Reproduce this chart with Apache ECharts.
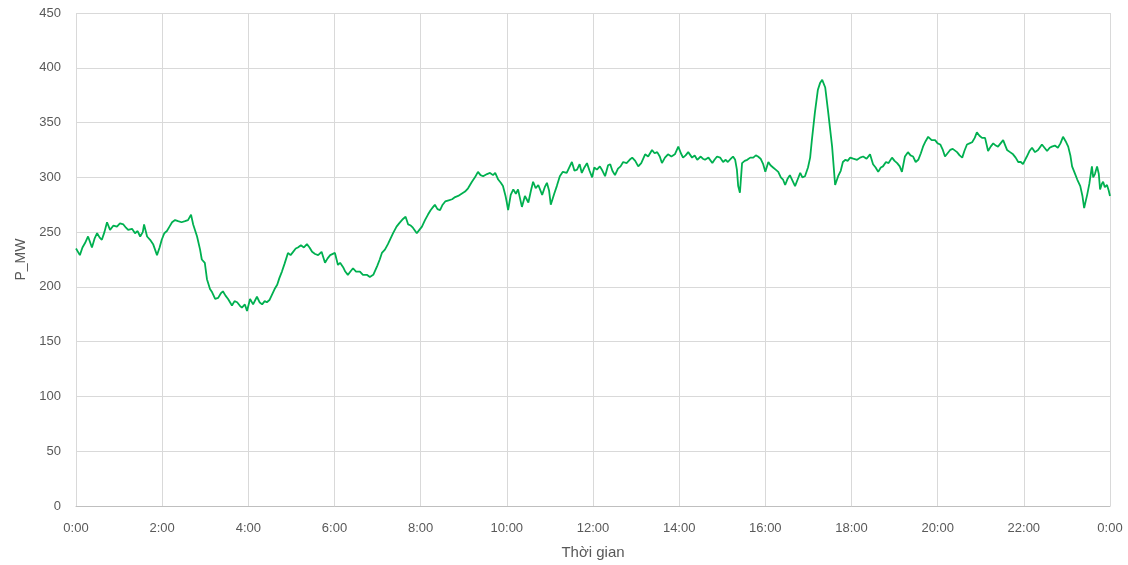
<!DOCTYPE html>
<html>
<head>
<meta charset="utf-8">
<title>P_MW</title>
<script src="https://cdn.jsdelivr.net/npm/echarts@6/dist/echarts.min.js"></script>
<style>
	html, body { margin: 0; padding: 0; background: #fff; }
	#chart { width: 1128px; height: 565px; }
</style>
</head>
<body>
<div id="chart"></div>
<script>
	// giờ trong ngày (0..24) và công suất
	const hours = [
		0.00,0.02,0.09,0.15,0.21,0.28,0.37,0.43,0.49,0.55,0.60,0.66,0.72,0.79,0.87,0.95,
		1.02,1.10,1.16,1.21,1.30,1.37,1.43,1.49,1.55,1.58,1.65,1.72,1.79,1.88,1.94,1.99,
		2.05,2.11,2.17,2.23,2.30,2.37,2.45,2.53,2.60,2.67,2.72,2.81,2.88,2.92,2.99,
		3.04,3.11,3.16,3.23,3.30,3.36,3.41,3.47,3.53,3.62,3.68,3.74,3.80,3.85,3.92,3.97,
		4.04,4.11,4.20,4.26,4.32,4.38,4.43,4.49,4.55,4.61,4.67,4.72,4.78,4.84,4.92,4.98,
		5.04,5.10,5.15,5.22,5.29,5.36,5.42,5.48,5.55,5.62,5.70,5.78,5.84,5.90,
		6.01,6.08,6.13,6.20,6.25,6.31,6.37,6.43,6.50,6.59,6.66,6.75,6.82,6.90,6.99,
		7.05,7.10,7.17,7.24,7.30,7.36,7.44,7.50,7.59,7.65,7.71,7.77,7.82,7.91,7.97,
		8.03,8.10,8.17,8.23,8.29,8.33,8.39,8.45,8.51,8.57,8.65,8.73,8.80,8.87,8.95,
		9.03,9.10,9.19,9.26,9.33,9.39,9.45,9.54,9.61,9.68,9.73,9.80,9.86,9.91,9.97,
		10.00,10.03,10.09,10.15,10.21,10.26,10.35,10.42,10.50,10.56,10.61,10.67,10.73,10.82,10.88,10.93,10.98,
		11.02,11.10,11.16,11.23,11.30,11.39,11.45,11.51,11.57,11.63,11.69,11.74,11.80,11.86,11.92,11.98,
		12.03,12.09,12.16,12.22,12.28,12.35,12.40,12.45,12.51,12.58,12.64,12.70,12.78,12.85,12.91,12.98,
		13.05,13.12,13.21,13.28,13.37,13.43,13.49,13.55,13.60,13.67,13.74,13.82,13.90,13.98,
		14.04,14.09,14.15,14.21,14.30,14.36,14.42,14.50,14.55,14.60,14.68,14.77,14.82,14.88,14.95,
		15.02,15.08,15.13,15.20,15.25,15.30,15.34,15.37,15.41,15.46,15.52,15.58,15.65,15.72,15.78,15.83,15.89,15.95,
		16.00,16.07,16.12,16.18,16.24,16.30,16.36,16.41,16.46,16.52,16.57,16.63,16.69,16.75,16.81,16.86,16.92,16.99,
		17.04,17.08,17.15,17.22,17.27,17.32,17.36,17.39,17.46,17.55,17.62,17.69,17.75,17.80,17.86,17.91,17.97,
		18.04,18.13,18.20,18.27,18.35,18.43,18.50,18.56,18.62,18.68,18.73,18.80,18.86,18.94,
		19.00,19.06,19.12,19.17,19.24,19.31,19.37,19.43,19.49,19.55,19.61,19.66,19.72,19.78,19.86,19.94,
		20.00,20.06,20.12,20.17,20.23,20.29,20.35,20.45,20.51,20.57,20.62,20.68,20.74,20.80,20.86,20.91,20.97,
		21.03,21.10,21.17,21.23,21.29,21.35,21.40,21.46,21.52,21.57,21.61,21.68,21.75,21.81,21.87,21.93,21.98,
		22.03,22.07,22.13,22.19,22.26,22.33,22.42,22.48,22.54,22.60,22.65,22.72,22.79,22.85,22.91,22.97,
		23.03,23.08,23.12,23.18,23.24,23.31,23.36,23.40,23.44,23.47,23.52,23.58,23.61,23.65,23.70,23.74,23.77,23.81,23.84,23.88,23.93,23.97,
		24.00
	];
	const power = [
		235,234,229,236,240,246,236,244,249,245,243,250,259,252,256,255,
		258,257,254,252,253,249,251,246,250,257,246,243,239,229,236,243,
		249,251,255,259,261,260,259,260,261,266,257,246,234,225,222,
		207,198,195,189,190,194,196,192,189,183,187,186,183,181,184,178,
		189,184,191,186,184,187,186,188,193,198,202,208,214,221,231,229,
		232,235,236,238,236,239,236,232,230,229,232,222,226,229,
		231,220,222,218,214,211,214,217,214,214,211,211,209,211,219,
		225,231,234,239,244,249,255,258,262,264,257,256,254,249,252,
		255,261,266,270,273,275,271,270,275,278,279,280,282,283,285,
		287,290,296,300,305,302,301,303,304,302,304,298,295,292,283,
		277,270,284,289,285,289,273,283,277,288,296,290,293,284,291,295,288,
		275,285,292,301,305,304,309,314,306,307,312,304,309,313,306,300,
		309,307,310,306,301,311,312,306,302,308,310,314,313,316,318,315,
		310,313,321,319,325,322,323,319,313,318,321,319,321,328,
		322,318,320,323,318,320,316,319,317,316,318,313,316,319,318,
		314,316,314,317,319,316,307,292,286,313,315,316,318,318,320,319,317,312,
		305,314,311,309,307,305,300,298,293,299,302,297,292,298,304,300,301,309,
		318,334,359,380,386,389,388,382,359,328,293,301,306,314,316,315,318,
		317,316,318,319,317,321,312,309,305,309,310,314,313,318,
		315,313,310,305,319,323,320,319,314,316,322,328,333,337,334,334,
		331,330,325,319,322,325,326,323,320,318,324,330,331,332,336,341,338,
		336,336,324,328,331,329,328,331,334,329,325,323,321,318,314,314,312,
		316,319,324,327,323,325,330,327,324,327,328,329,327,331,337,333,
		328,320,310,304,298,292,283,272,279,284,294,310,300,303,310,303,289,294,296,291,293,288,
		283
	];
	const yTicks = [0, 50, 100, 150, 200, 250, 300, 350, 400, 450];

	const seriesData = hours.map((h, i) => [h, power[i]]);
	const textFont = 'Liberation Sans';

	const myChart = echarts.init(document.getElementById('chart'), null, { renderer: 'canvas' });
	myChart.setOption({
		animation: false,
		grid: {
			left: 76,
			right: 18,
			top: 13,
			bottom: 58,
			containLabel: false
		},
		xAxis: {
			type: 'value',
			min: 0,
			max: 24,
			interval: 2,
			name: 'Thời gian',
			nameLocation: 'middle',
			nameGap: 39,
			nameTextStyle: { color: '#595959', fontSize: 15, fontFamily: textFont },
			axisLine: { show: true, lineStyle: { color: '#bfbfbf', width: 1 } },
			axisTick: { show: false },
			axisLabel: {
				color: '#595959',
				fontSize: 13,
				fontFamily: textFont,
				margin: 16,
				formatter: function (v) { return (v % 24) + ':00'; }
			},
			splitLine: { show: true, lineStyle: { color: '#d9d9d9', width: 1 } }
		},
		yAxis: {
			type: 'value',
			min: yTicks[0],
			max: yTicks[yTicks.length - 1],
			interval: 50,
			name: 'P_MW',
			nameLocation: 'middle',
			nameGap: 46,
			nameRotate: 90,
			nameTextStyle: { color: '#595959', fontSize: 14, fontFamily: textFont },
			axisLine: { show: false },
			axisTick: { show: false },
			axisLabel: { color: '#595959', fontSize: 13, fontFamily: textFont, margin: 15 },
			splitLine: { show: true, lineStyle: { color: '#d9d9d9', width: 1 } }
		},
		series: [
			{
				name: 'P_MW',
				type: 'line',
				data: seriesData,
				showSymbol: false,
				smooth: false,
				lineStyle: { color: '#00b050', width: 1.8 },
				itemStyle: { color: '#00b050' }
			}
		]
	});
	window.addEventListener('resize', function () {
		myChart.resize();
	});
</script>
</body>
</html>
